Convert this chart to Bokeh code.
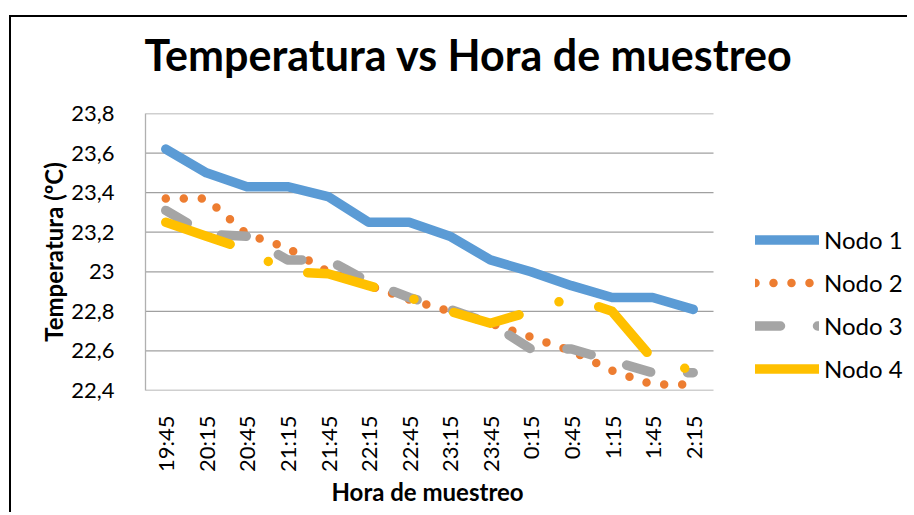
from math import pi
from bokeh.plotting import figure
from bokeh.models import FixedTicker, Legend, LegendItem, Range1d, Title
from bokeh.embed import file_html
from bokeh.resources import INLINE

horas = ["19:45", "20:15", "20:45", "21:15", "21:45", "22:15", "22:45",
         "23:15", "23:45", "0:15", "0:45", "1:15", "1:45", "2:15"]
nodo1 = [23.62, 23.50, 23.43, 23.43, 23.38, 23.25, 23.25, 23.18, 23.06, 23.00, 22.93, 22.87, 22.87, 22.81]
nodo2 = [23.37, 23.37, 23.19, 23.12, 23.00, 22.93, 22.86, 22.80, 22.74, 22.67, 22.60, 22.50, 22.43, 22.43]
nodo3 = [23.31, 23.19, 23.18, 23.06, 23.06, 22.95, 22.87, 22.81, 22.74, 22.61, 22.61, 22.55, 22.49, 22.49]
nodo4 = [23.25, 23.18, 23.11, 23.00, 22.99, 22.93, 22.87, 22.80, 22.74, 22.80, 22.87, 22.80, 22.56, 22.50]

y_ticks = [22.4, 22.6, 22.8, 23.0, 23.2, 23.4, 23.6, 23.8]
y_labels = ["22,4", "22,6", "22,8", "23", "23,2", "23,4", "23,6", "23,8"]

FONT = "Lato"

# layout (pixels)
W, H = 898, 497
BORDER_L, BORDER_R, BORDER_T, BORDER_B = 134, 3, 96, 124
PLOT_AREA_W = 568                      # width of the category area
frame_w = W - BORDER_L - BORDER_R      # frame runs almost to the right edge (legend lives there)
n = len(horas)
x = list(range(n))
x_end = -0.5 + frame_w * n / PLOT_AREA_W

p = figure(width=W, height=H, output_backend="svg", toolbar_location=None,
           x_range=Range1d(-0.5, x_end), y_range=Range1d(y_ticks[0], y_ticks[-1]),
           min_border_left=BORDER_L, min_border_right=BORDER_R,
           min_border_top=BORDER_T, min_border_bottom=BORDER_B)
# chart-area frame: only the top and left edges fall inside the window
p.styles = {"box-shadow": "-2px -2px 0 0 #000",
            "margin-left": "11px", "margin-top": "17px"}

# horizontal gridlines limited to the category area
p.segment(x0=[-0.5] * len(y_ticks), x1=[n - 0.5] * len(y_ticks), y0=y_ticks, y1=y_ticks,
          line_color="#a0a0a0", line_width=1.3)

r1 = p.line(x, nodo1, line_color="#5B9BD5", line_width=9.5, line_cap="round", line_join="round")
r2 = p.line(x, nodo2, line_color="#ED7D31", line_width=8.5, line_cap="round", line_join="round",
            line_dash="0 18")
r3 = p.line(x, nodo3, line_color="#A5A5A5", line_width=9.5, line_cap="round", line_join="round",
            line_dash="25 37")
r4 = p.line(x, nodo4, line_color="#FFC000", line_width=9.5, line_cap="round", line_join="round",
            line_dash="68 42 0 42")

# spacer between title and plot area
p.add_layout(Title(text=" ", text_font_size="20px", standoff=9), "above")

# title
p.title.text = "Temperatura vs Hora de muestreo"
p.title.text_font = FONT
p.title.text_font_size = "43px"
p.title.text_font_style = "bold"
p.title.text_color = "#000000"
p.title.align = "left"
p.title.offset = -1
p.title.standoff = 2

# axes
p.outline_line_color = None
p.xgrid.visible = False
p.ygrid.visible = False

p.xaxis.ticker = FixedTicker(ticks=x)
p.xaxis.major_label_overrides = dict(zip(x, horas))
p.yaxis.ticker = FixedTicker(ticks=y_ticks)
p.yaxis.major_label_overrides = dict(zip(y_ticks, y_labels))
for ax in (p.xaxis, p.yaxis):
    ax.major_tick_line_color = None
    ax.minor_tick_line_color = None
    ax.axis_line_color = "#b0b0b0"
    ax.axis_line_width = 1.3
    ax.major_label_text_font = FONT
    ax.major_label_text_font_size = "22px"
    ax.major_label_text_color = "#000000"
    ax.axis_label_text_font = FONT
    ax.axis_label_text_font_size = "24px"
    ax.axis_label_text_font_style = "bold"
    ax.axis_label_text_color = "#000000"

p.xaxis.axis_line_color = None
p.xaxis.major_label_orientation = pi / 2
p.xaxis.major_label_standoff = 19

# x-axis title, centred under the category area
p.add_layout(Title(text="Hora de muestreo", text_font=FONT, text_font_size="24px",
                   text_font_style="bold", text_color="#000000",
                   align="left", offset=186, standoff=2, vertical_align="top"), "below")

p.yaxis.major_label_standoff = 25
p.yaxis.axis_label = "Temperatura (ºC)"
p.yaxis.axis_label_standoff = 0

legend = Legend(items=[LegendItem(label="Nodo 1", renderers=[r1]),
                       LegendItem(label="Nodo 2", renderers=[r2]),
                       LegendItem(label="Nodo 3", renderers=[r3]),
                       LegendItem(label="Nodo 4", renderers=[r4])],
                location=(610, 7), orientation="vertical",
                glyph_width=64, glyph_height=29, label_height=29, spacing=14,
                label_standoff=5, padding=0, margin=0,
                border_line_color=None, background_fill_alpha=0,
                label_text_font=FONT, label_text_font_size="24px", label_text_color="#000000")
p.add_layout(legend, "center")

open("out.html", "w").write(file_html(p, INLINE))
